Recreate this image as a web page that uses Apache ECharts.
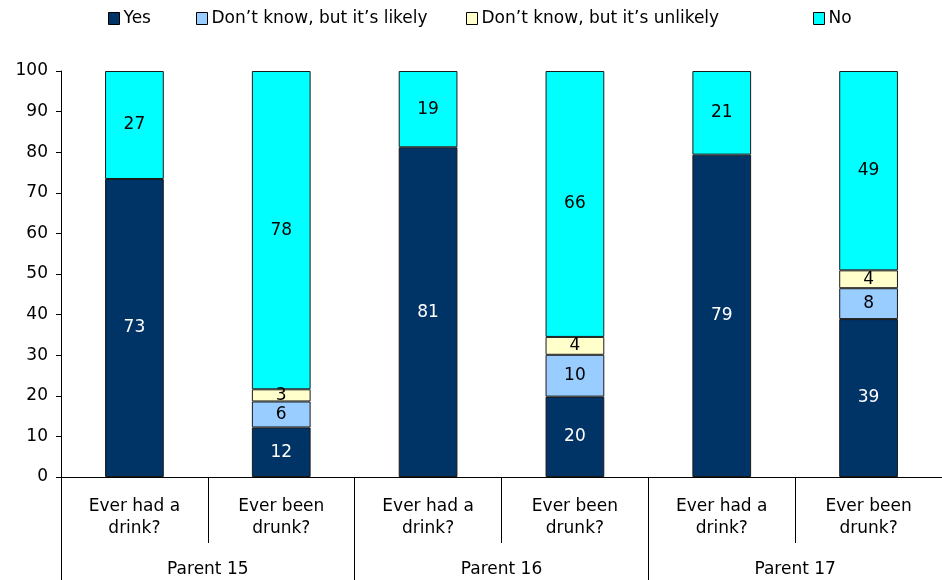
<!DOCTYPE html>
<html>
<head>
<meta charset="utf-8">
<script src="https://cdn.jsdelivr.net/npm/echarts@6/dist/echarts.min.js"></script>
<style>html,body{margin:0;padding:0;background:#fff;}#c{width:942px;height:580px;}</style>
</head>
<body>
<div id="c"></div>
<script>
var categories = ['Ever had a\ndrink?', 'Ever been\ndrunk?', 'Ever had a\ndrink?', 'Ever been\ndrunk?', 'Ever had a\ndrink?', 'Ever been\ndrunk?'];
var groups = ['Parent 15', 'Parent 16', 'Parent 17'];
var seriesNames = ['Yes', 'Don\u2019t know, but it\u2019s likely', 'Don\u2019t know, but it\u2019s unlikely', 'No'];
var yesValues = [73.4, 12.2, 81.2, 19.8, 79.4, 38.9];
var likelyValues = [null, 6.4, null, 10.3, null, 7.6];
var unlikelyValues = [null, 3.0, null, 4.4, null, 4.4];
var noValues = [26.6, 78.4, 18.8, 65.5, 20.6, 49.1];
var yTicks = [0, 10, 20, 30, 40, 50, 60, 70, 80, 90, 100];

var colors = ['#003366', '#99CCFF', '#FFFFCC', '#00FFFF'];
var labelColors = ['#ffffff', '#000000', '#000000', '#000000'];
var FONT = 'DejaVu Sans';
var FS = 17;
var allValues = [yesValues, likelyValues, unlikelyValues, noValues];
var legendLefts = [103, 191, 461, 808];

var series = seriesNames.map(function (name, i) {
  return {
    name: name,
    type: 'bar',
    stack: 'total',
    barWidth: '40%',
    xAxisIndex: 0,
    data: allValues[i],
    itemStyle: { color: colors[i], borderColor: '#1a1a1a', borderWidth: 1 },
    label: {
      show: true,
      position: 'inside',
      color: labelColors[i],
      fontFamily: FONT,
      fontSize: FS,
      formatter: function (p) { return p.value == null ? '' : String(Math.round(p.value)); }
    },
    emphasis: { disabled: true }
  };
});

var legends = seriesNames.map(function (name, i) {
  return {
    top: 5,
    left: legendLefts[i],
    itemWidth: 11,
    itemHeight: 12,
    itemGap: 0,
    icon: 'rect',
    itemStyle: { borderColor: '#000', borderWidth: 1 },
    textStyle: { fontFamily: FONT, fontSize: FS, color: '#000', padding: [0, 0, 0, -1] },
    data: [name]
  };
});

var chart = echarts.init(document.getElementById('c'));
chart.setOption({
  animation: false,
  color: colors,
  legend: legends,
  grid: { left: 61, right: 0, top: 71, bottom: 103, containLabel: false },
  xAxis: [
    {
      type: 'category',
      data: categories,
      position: 'bottom',
      axisLine: { show: true, lineStyle: { color: '#000', width: 1 } },
      axisTick: { show: true, interval: 0, length: 66, lineStyle: { color: '#000' } },
      axisLabel: { interval: 0, margin: 19, fontFamily: FONT, fontSize: FS, lineHeight: 22, color: '#000' }
    },
    {
      type: 'category',
      data: groups,
      position: 'bottom',
      axisLine: { show: false },
      axisTick: { show: true, interval: 0, length: 103, lineStyle: { color: '#000' } },
      axisLabel: { interval: 0, margin: 84, fontFamily: FONT, fontSize: FS, lineHeight: 18, color: '#000' }
    }
  ],
  yAxis: {
    type: 'value',
    min: yTicks[0],
    max: yTicks[yTicks.length - 1],
    interval: 10,
    axisLine: { show: true, lineStyle: { color: '#000' } },
    axisTick: { show: true, length: 5, lineStyle: { color: '#000' } },
    splitLine: { show: false },
    axisLabel: { margin: 13, fontFamily: FONT, fontSize: FS, color: '#000' }
  },
  series: series
});
</script>
</body>
</html>
